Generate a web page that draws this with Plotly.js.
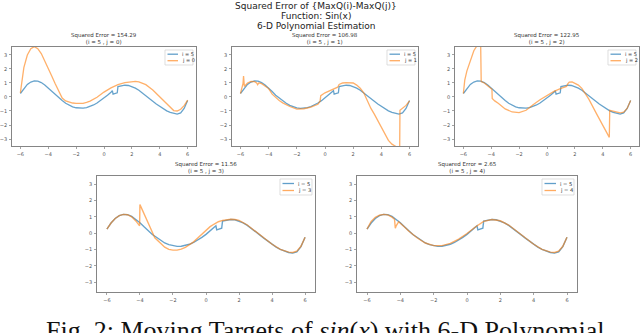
<!DOCTYPE html>
<html>
<head>
<meta charset="utf-8">
<script src="https://cdn.plot.ly/plotly-3.0.1.min.js"></script>
<style>
  html, body { margin: 0; padding: 0; background: #fff; }
  #chart { width: 640px; height: 333px; }
</style>
</head>
<body>
<div id="chart"></div>
<script>
// estimation i = 5 (same curve in every panel)
const xI5 = [-6,-5.75,-5.5,-5.25,-5,-4.75,-4.5,-4.25,-4,-3.75,-3.5,-3.25,-3,-2.75,-2.5,-2.25,-2,-1.75,-1.5,-1.25,-1,-0.75,-0.5,-0.25,0,0.25,0.5,0.6,0.65,0.8,0.95,1.0,1.25,1.5,1.75,2,2.25,2.5,2.75,3,3.25,3.5,3.75,4,4.25,4.5,4.75,5,5.25,5.5,5.75,6];
const yI5 = [0.25,0.62,0.9,1.07,1.15,1.13,1.03,0.86,0.64,0.39,0.13,-0.08,-0.25,-0.45,-0.6,-0.7,-0.77,-0.81,-0.8,-0.76,-0.68,-0.57,-0.43,-0.26,-0.07,0.13,0.34,0.45,0.2,0.24,0.3,0.74,0.8,0.84,0.82,0.74,0.63,0.48,0.3,0.1,-0.1,-0.3,-0.5,-0.68,-0.85,-0.99,-1.1,-1.18,-1.22,-1.14,-0.82,-0.25];

// estimations j = 0 .. 4
const xJ0 = [-6,-5.9,-5.75,-5.5,-5.25,-5,-4.75,-4.5,-4.25,-4,-3.75,-3.5,-3.25,-3.1,-3,-2.75,-2.5,-2.25,-2,-1.75,-1.5,-1.25,-1,-0.5,0,0.5,1,1.5,2,2.25,2.5,3,3.5,4,4.5,5,5.25,5.5,5.75,6];
const yJ0 = [0.3,1.2,2.1,3.0,3.45,3.6,3.45,3.1,2.6,2.05,1.5,0.95,0.4,0.12,-0.08,-0.28,-0.37,-0.43,-0.46,-0.47,-0.45,-0.39,-0.3,-0.02,0.35,0.65,0.88,1.02,1.1,1.12,1.08,0.88,0.5,0.0,-0.52,-0.97,-1.0,-0.88,-0.62,-0.22];

const xJ1 = [-6,-5.9,-5.82,-5.78,-5.76,-5.72,-5.5,-5.25,-5,-4.85,-4.78,-4.7,-4.5,-4.25,-4,-3.75,-3.5,-3.25,-3,-2.5,-2,-1.75,-1.5,-1,-0.5,-0.35,-0.3,0,0.5,0.7,0.9,1.0,1.25,1.5,1.8,2,2.25,2.5,2.75,3,3.25,3.5,3.75,4,4.25,4.5,4.75,5,5.2,5.3,5.32,5.5,5.75,6];
const yJ1 = [0.25,0.7,0.95,1.5,1.1,0.75,1.0,1.12,1.1,1.0,0.88,1.0,0.95,0.8,0.6,0.2,-0.05,-0.25,-0.42,-0.68,-0.86,-0.87,-0.84,-0.72,-0.52,-0.3,0.1,0.3,0.55,0.62,0.7,0.9,1.0,1.03,1.04,1.0,0.85,0.62,0.3,-0.25,-0.8,-1.22,-1.7,-2.2,-2.65,-3.1,-3.37,-3.55,-3.7,-3.7,-0.95,-0.8,-0.6,-0.27];

const xJ2 = [-6,-5.9,-5.75,-5.5,-5.25,-5.0,-4.9,-4.76,-4.72,-4.5,-4.25,-4.05,-3.95,-3.93,-3.75,-3.5,-3,-2.5,-2,-1.5,-1.2,-1,-0.5,0,0.5,1,1.4,1.5,1.6,1.8,2,2.25,2.5,3,3.5,4,4.25,4.47,4.5,4.75,5,5.25,5.5,5.75,6];
const yJ2 = [0.25,1.2,1.85,2.65,3.3,3.7,3.8,3.8,1.1,1.0,0.82,0.62,0.55,-0.1,-0.28,-0.45,-0.85,-1.07,-1.12,-0.95,-0.7,-0.55,-0.2,0.12,0.4,0.62,0.75,0.95,1.07,1.08,1.0,0.85,0.62,-0.15,-1.1,-2.0,-2.45,-2.88,-0.95,-1.0,-1.1,-1.14,-1.08,-0.82,-0.25];

const xJ3 = [-6,-5.75,-5.5,-5.25,-5,-4.75,-4.5,-4.25,-4.02,-4.0,-3.5,-3.1,-2.75,-2.5,-2.25,-2,-1.75,-1.5,-1.25,-1,-0.75,-0.5,-0.25,0,0.25,0.5,0.75,1,1.25,1.5,1.75,2,2.5,3,3.5,4,4.5,5,5.25,5.5,5.75,6];
const yJ3 = [0.25,0.62,0.9,1.07,1.15,1.13,1.0,0.75,0.45,1.75,0.62,-0.28,-0.62,-0.86,-0.99,-1.04,-1.04,-0.98,-0.87,-0.72,-0.53,-0.3,-0.05,0.2,0.4,0.56,0.7,0.78,0.83,0.85,0.84,0.78,0.5,0.1,-0.3,-0.68,-0.99,-1.16,-1.18,-1.1,-0.8,-0.25];

const xJ4 = [-6,-5.85,-5.75,-5.5,-5.25,-5,-4.75,-4.5,-4.35,-4.3,-4.25,-4.1,-4,-3.75,-3.5,-3,-2.5,-2,-1.5,-1,-0.5,0,0.5,1,1.5,2,2.5,3,3.5,4,4.5,5,5.25,5.5,5.75,6];
const yJ4 = [0.25,0.55,0.72,0.97,1.1,1.15,1.12,0.98,0.85,0.3,0.45,0.7,0.62,0.38,0.13,-0.28,-0.6,-0.76,-0.76,-0.62,-0.36,-0.02,0.38,0.72,0.84,0.76,0.5,0.12,-0.3,-0.68,-0.99,-1.16,-1.18,-1.1,-0.8,-0.25];

const xJ = [xJ0, xJ1, xJ2, xJ3, xJ4];
const yJ = [yJ0, yJ1, yJ2, yJ3, yJ4];
const jLabels = ['0', '1', '2', '3', '4'];
const sqErrors = ['154.29', '106.98', '122.95', '11.56', '2.65'];
const xTicks = [-6, -4, -2, 0, 2, 4, 6];
const yTicks = [-3, -2, -1, 0, 1, 2, 3];

const W = 640, H = 333;
const BLUE = '#1f77b4', ORANGE = '#ff7f0e';
// panel boxes in pixels: left, right, top, bottom
const boxes = [
  [12, 196, 47, 146],
  [232, 418, 47, 146],
  [455, 639, 47, 146],
  [97, 315, 176, 292],
  [357, 577, 176, 292]
];
const px = v => v / W;
const py = v => 1 - v / H;

const traces = [];
const layout = {
  width: W, height: H,
  margin: {l: 0, r: 0, t: 0, b: 0},
  paper_bgcolor: '#fff', plot_bgcolor: '#fff',
  showlegend: false,
  shapes: [], annotations: []
};

boxes.forEach((b, k) => {
  const sfx = k === 0 ? '' : String(k + 1);
  const big = k >= 3;
  const lw = big ? 1.4 : 1.3;
  traces.push({x: xI5, y: yI5, xaxis: 'x' + sfx, yaxis: 'y' + sfx, mode: 'lines',
    line: {color: BLUE, width: lw}, opacity: 0.68, name: 'i = 5'});
  traces.push({x: xJ[k], y: yJ[k], xaxis: 'x' + sfx, yaxis: 'y' + sfx, mode: 'lines',
    line: {color: ORANGE, width: lw}, opacity: 0.62, name: 'j = ' + jLabels[k]});

  const axCommon = {
    showgrid: false, zeroline: false, showline: true, mirror: true,
    linecolor: '#666', linewidth: 0.8, ticks: 'outside', ticklen: 2, tickwidth: 0.6,
    tickcolor: '#666', ticklabelstandoff: 1,
    tickfont: {family: 'DejaVu Sans', size: 5, color: '#555'}
  };
  layout['xaxis' + sfx] = Object.assign({}, axCommon, {
    domain: [px(b[0]), px(b[1])], anchor: 'y' + sfx, range: [-6.6, 6.6],
    tickvals: xTicks
  });
  layout['yaxis' + sfx] = Object.assign({}, axCommon, {
    domain: [py(b[3]), py(b[2])], anchor: 'x' + sfx,
    range: big ? [-3.6, 3.5] : [-3.5, 3.57], tickvals: yTicks
  });

  // subplot title
  layout.annotations.push({
    xref: 'paper', yref: 'paper', x: px((b[0] + b[1]) / 2), y: py(b[2] + 1),
    xanchor: 'center', yanchor: 'bottom', showarrow: false, align: 'center',
    text: 'Squared Error = ' + sqErrors[k] + '<br>(i = 5 , j = ' + jLabels[k] + ')',
    font: {family: 'DejaVu Sans', size: 5.5, color: '#333'}
  });

  // legend box
  const lwid = big ? 32 : 28, lhei = big ? 16 : 15;
  const lx1 = b[1] - 3, lx0 = lx1 - lwid, ly0 = b[2] + 3, ly1 = ly0 + lhei;
  layout.shapes.push({type: 'rect', xref: 'paper', yref: 'paper',
    x0: px(lx0), x1: px(lx1), y0: py(ly0), y1: py(ly1),
    line: {color: '#d0d0d0', width: 0.7}, fillcolor: 'rgba(255,255,255,0.8)'});
  [['i = 5', BLUE, 0.7], ['j = ' + jLabels[k], ORANGE, 0.65]].forEach((e, n) => {
    const yy = ly0 + (big ? 4.5 : 4.2) + n * (big ? 7 : 6.5);
    layout.shapes.push({type: 'line', xref: 'paper', yref: 'paper',
      x0: px(lx0 + 2.5), x1: px(lx0 + (big ? 14 : 13)), y0: py(yy), y1: py(yy),
      line: {color: e[1], width: 1.3}, opacity: e[2]});
    layout.annotations.push({xref: 'paper', yref: 'paper', x: px(lx0 + (big ? 16 : 15)), y: py(yy),
      xanchor: 'left', yanchor: 'middle', showarrow: false, text: e[0],
      font: {family: 'DejaVu Sans', size: big ? 5.2 : 5, color: '#333'}});
  });
});

// main title
['Squared Error of {MaxQ(i)-MaxQ(j)}', 'Function: Sin(x)', '6-D Polynomial Estimation'].forEach((t, n) => {
  layout.annotations.push({xref: 'paper', yref: 'paper', x: px(316), y: py(5.5 + n * 10.2),
    xanchor: 'center', yanchor: 'middle', showarrow: false, text: t,
    font: {family: 'DejaVu Sans', size: 9, color: '#222'}});
});

// caption (cut off at bottom of the picture, as in the source)
layout.annotations.push({xref: 'paper', yref: 'paper', x: px(325), y: py(313.5),
  xanchor: 'center', yanchor: 'top', showarrow: false,
  text: 'Fig. 2: Moving Targets of <i>sin</i>(<i>x</i>) with 6-D Polynomial',
  font: {family: 'Liberation Serif', size: 26, color: '#111'}});

Plotly.newPlot('chart', traces, layout, {displayModeBar: false, staticPlot: true});
</script>
</body>
</html>
